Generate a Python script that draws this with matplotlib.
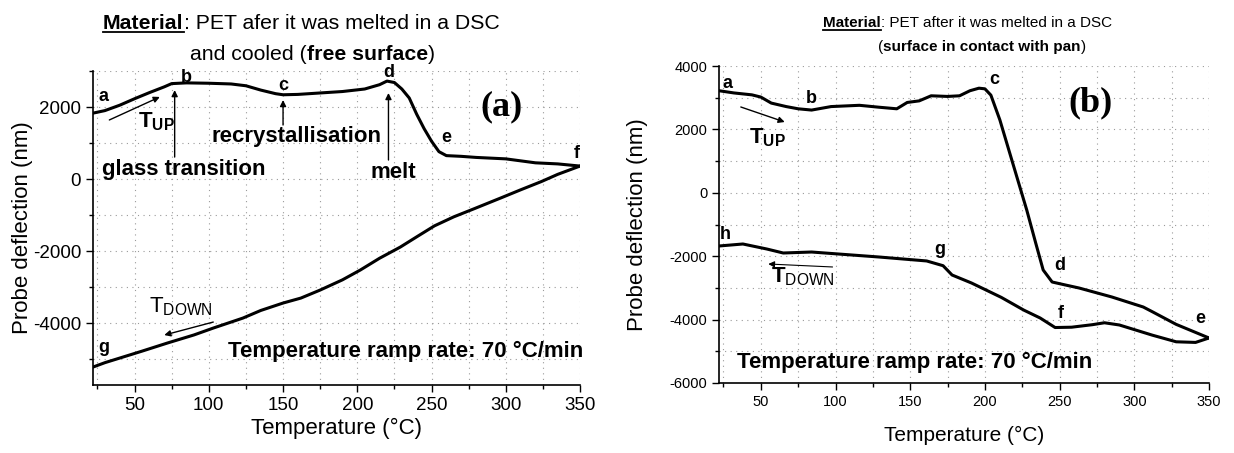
import matplotlib
matplotlib.use("Agg")
import matplotlib.pyplot as plt
from matplotlib.lines import Line2D
from matplotlib.ticker import MultipleLocator

plt.rcParams["font.family"] = ["Liberation Sans", "DejaVu Sans"]
plt.rcParams["mathtext.fontset"] = "custom"
plt.rcParams["mathtext.rm"] = "Liberation Sans"
plt.rcParams["mathtext.bf"] = "Liberation Sans:bold"
plt.rcParams["mathtext.it"] = "Liberation Sans:italic"
plt.rcParams["axes.unicode_minus"] = False

# --- panel (a): free surface ---
up_temp_a = [22, 30, 40, 50, 60, 70, 75, 85, 100, 115, 125, 135, 145, 150, 160,
             175, 190, 205, 215, 220, 225, 230, 235, 240, 245, 250, 255, 260,
             270, 280, 300, 320, 335, 350]
up_defl_a = [1830, 1900, 2050, 2230, 2400, 2560, 2650, 2670, 2660, 2640, 2590,
             2470, 2370, 2340, 2350, 2390, 2430, 2500, 2620, 2720, 2680, 2500,
             2250, 1800, 1400, 1050, 760, 650, 630, 600, 560, 450, 420, 360]
down_temp_a = [350, 335, 324, 310, 297, 279, 265, 252, 241, 229, 215, 202, 190,
               175, 162, 150, 135, 123, 103, 90, 72, 55, 40, 30, 22]
down_defl_a = [360, 130, -70, -300, -520, -820, -1050, -1300, -1580, -1889,
               -2200, -2528, -2800, -3083, -3306, -3444, -3650, -3861, -4139,
               -4330, -4556, -4780, -4972, -5100, -5222]

# --- panel (b): surface in contact with pan ---
up_temp_b = [22, 32, 44, 50, 57, 67, 75, 84, 97, 116, 129, 141, 148, 156, 164,
             175, 183, 190, 196, 200, 204, 210, 218, 228, 234, 239, 245, 255,
             263, 285, 306, 312, 328, 350]
up_defl_b = [3220, 3150, 3090, 3020, 2830, 2720, 2650, 2610, 2720, 2760, 2700,
             2650, 2850, 2900, 3060, 3040, 3060, 3220, 3300, 3280, 3080, 2300,
             1035, -543, -1584, -2435, -2814, -2920, -3003, -3287, -3603, -3750,
             -4150, -4580]
down_temp_b = [350, 341, 328, 312, 290, 280, 272, 258, 247, 237, 226, 211, 191,
               178, 172, 161, 129, 102, 84, 65, 54, 38, 22]
down_defl_b = [-4580, -4720, -4700, -4490, -4170, -4100, -4160, -4240, -4250,
               -3950, -3700, -3300, -2845, -2593, -2300, -2150, -2025, -1931,
               -1868, -1899, -1773, -1615, -1678]

point_labels_a = [("a", 29, 2280), ("b", 85, 2830), ("c", 150, 2610),
                  ("d", 221, 2960), ("e", 260, 1140), ("f", 348, 720),
                  ("g", 29, -4690)]
point_labels_b = [("a", 28, 3460), ("b", 84, 2990), ("c", 206, 3560),
                  ("d", 250, -2309), ("e", 344, -3950), ("f", 251, -3792),
                  ("g", 170, -1804), ("h", 26, -1331)]

W, H = 1234, 453
fig = plt.figure(figsize=(W / 100, H / 100), dpi=100)
renderer = fig.canvas.get_renderer()


def px_box(left, right, top, bottom):
    return [left / W, 1 - bottom / H, (right - left) / W, (bottom - top) / H]


def style_axes(ax, ylim, ymajor, tick_size):
    ax.set_xlim(22, 350)
    ax.set_ylim(*ylim)
    ax.xaxis.set_major_locator(MultipleLocator(50))
    ax.xaxis.set_minor_locator(MultipleLocator(25))
    ax.yaxis.set_major_locator(MultipleLocator(ymajor))
    ax.yaxis.set_minor_locator(MultipleLocator(1000))
    for side in ("top", "right"):
        ax.spines[side].set_visible(False)
    for side in ("left", "bottom"):
        ax.spines[side].set_linewidth(1.2)
    ax.tick_params(which="both", direction="out", width=1, labelsize=tick_size)
    ax.tick_params(which="major", length=5)
    ax.tick_params(which="minor", length=3)
    ax.grid(True, which="both", color="#9a9a9a", linestyle=(0, (1, 4)),
            linewidth=0.8)


def text_width(s, size, weight):
    t = fig.text(0, 0, s + "|", fontsize=size, fontweight=weight)
    p = fig.text(0, 0, "|", fontsize=size, fontweight=weight)
    w = t.get_window_extent(renderer).width - p.get_window_extent(renderer).width
    t.remove()
    p.remove()
    return w


def rich_line(x_px, y_px, parts, size):
    """parts: (text, weight, underline) drawn left to right on one baseline."""
    x = x_px
    for s, weight, underline in parts:
        fig.text(x / W, 1 - y_px / H, s, fontsize=size, fontweight=weight,
                 ha="left", va="baseline")
        if underline:
            t = fig.text(0, 0, s, fontsize=size, fontweight=weight)
            wd = t.get_window_extent(renderer).width
            t.remove()
            fig.add_artist(Line2D([x / W, (x + wd) / W],
                                  [1 - (y_px + 3) / H] * 2, color="k", lw=1.3))
        x += text_width(s, size, weight)


def arrow(ax, tail, head, lw=1.0):
    ax.annotate("", xy=head, xytext=tail,
                arrowprops=dict(arrowstyle="-|>", lw=lw, color="k",
                                mutation_scale=9, shrinkA=0, shrinkB=0))


# ---------------- panel (a) ----------------
ax_a = fig.add_axes(px_box(93, 580, 71, 385))
style_axes(ax_a, (-5720, 3000), 2000, 13.5)
ax_a.plot(up_temp_a, up_defl_a, color="k", lw=2.2)
ax_a.plot(down_temp_a, down_defl_a, color="k", lw=2.2)
ax_a.set_xlabel("Temperature (°C)", fontsize=16)
ax_a.set_ylabel("Probe deflection (nm)", fontsize=16)
ax_a.xaxis.set_label_coords(0.5, -0.105)
ax_a.yaxis.set_label_coords(-0.123, 0.5)

for lab, tx, ty in point_labels_a:
    ax_a.text(tx, ty, lab, fontsize=13, fontweight="bold", ha="center",
              va="center", clip_on=False)
ax_a.text(297, 2000, "(a)", family="Liberation Serif", fontweight="bold",
          fontsize=26, ha="center", va="center")

arrow(ax_a, (33, 1640), (67, 2280))
ax_a.text(52, 1444, r"$\mathbf{T_{UP}}$", fontsize=16, ha="left", va="baseline")
arrow(ax_a, (103, -3972), (70, -4333))
ax_a.text(60, -3694, r"$\mathrm{T_{DOWN}}$", fontsize=16, ha="left",
          va="baseline")

arrow(ax_a, (77, 610), (77, 2470))
ax_a.text(28, 100, "glass transition", fontsize=16, fontweight="bold",
          ha="left", va="baseline")
arrow(ax_a, (150, 1500), (150, 2194))
ax_a.text(102, 1028, "recrystallisation", fontsize=16, fontweight="bold",
          ha="left", va="baseline")
arrow(ax_a, (221, 528), (221, 2389))
ax_a.text(209, 28, "melt", fontsize=16, fontweight="bold", ha="left",
          va="baseline")
ax_a.text(113, -4944, "Temperature ramp rate: 70 °C/min",
          fontsize=16, fontweight="bold", ha="left", va="baseline")

rich_line(103, 29, [("Material", "bold", True),
                    (": PET afer it was melted in a DSC", "normal", False)], 15.3)
rich_line(190, 60, [("and cooled (", "normal", False),
                    ("free surface", "bold", False),
                    (")", "normal", False)], 15.3)

# ---------------- panel (b) ----------------
ax_b = fig.add_axes(px_box(719, 1209, 66, 383))
style_axes(ax_b, (-6000, 4000), 2000, 10.5)
ax_b.plot(up_temp_b, up_defl_b, color="k", lw=2.2)
ax_b.plot(down_temp_b, down_defl_b, color="k", lw=2.2)
ax_b.set_xlabel("Temperature (°C)", fontsize=15)
ax_b.set_ylabel("Probe deflection (nm)", fontsize=16)
ax_b.xaxis.set_label_coords(0.5, -0.136)
ax_b.yaxis.set_label_coords(-0.145, 0.5)

for lab, tx, ty in point_labels_b:
    ax_b.text(tx, ty, lab, fontsize=13, fontweight="bold", ha="center",
              va="center", clip_on=False)
ax_b.text(271, 2830, "(b)", family="Liberation Serif", fontweight="bold",
          fontsize=26, ha="center", va="center")

arrow(ax_b, (36.6, 2707), (66, 2233))
ax_b.text(42, 1571, r"$\mathbf{T_{UP}}$", fontsize=16, ha="left", va="baseline")
arrow(ax_b, (98, -2340), (55, -2246), lw=0.8)
ax_b.text(57, -2814, r"$\mathbf{T}_{\mathrm{DOWN}}$", fontsize=16, ha="left",
          va="baseline")
ax_b.text(34, -5527, "Temperature ramp rate: 70 °C/min",
          fontsize=16, fontweight="bold", ha="left", va="baseline")

rich_line(823, 27, [("Material", "bold", True),
                    (": PET after it was melted in a DSC", "normal", False)], 11)
rich_line(878, 51, [("(", "normal", False),
                    ("surface in contact with pan", "bold", False),
                    (")", "normal", False)], 11)

fig.savefig("out.png", dpi=100)
